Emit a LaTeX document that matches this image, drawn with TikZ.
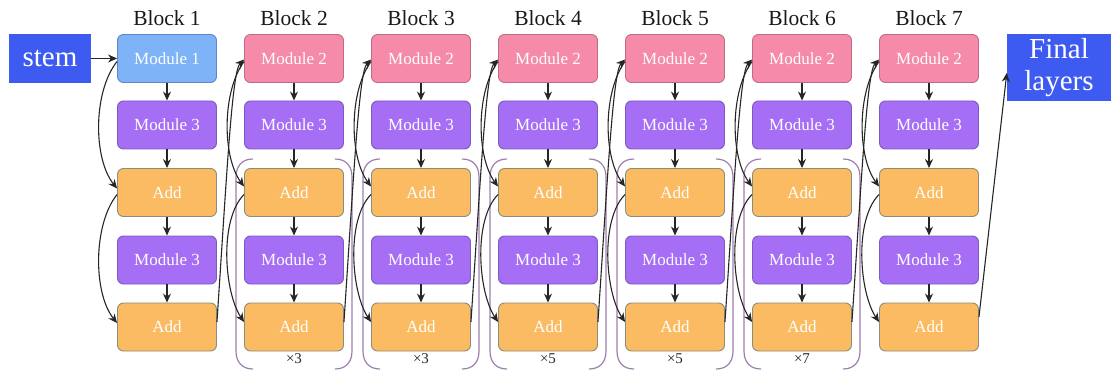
\documentclass[tikz,border=0pt]{standalone}
\usepackage{fontspec}
\setmainfont{Liberation Serif}
\usetikzlibrary{arrows.meta}

\definecolor{modonefill}{HTML}{7EB3F8}
\definecolor{modoneline}{HTML}{5E86C8}
\definecolor{modtwofill}{HTML}{F58BA8}
\definecolor{modtwoline}{HTML}{C06A85}
\definecolor{modthreefill}{HTML}{A56EF5}
\definecolor{modthreeline}{HTML}{7A5BC0}
\definecolor{addfill}{HTML}{FBBB62}
\definecolor{addline}{HTML}{8C8C7A}
\definecolor{endfill}{HTML}{3D5BF0}
\definecolor{brkcol}{HTML}{9C7FAE}

\begin{document}
\begin{tikzpicture}[x=1pt,y=-1pt,
  box/.style={draw, rounded corners=6pt, minimum width=99pt, minimum height=48pt,
    inner sep=0pt, text=white, line width=0.9pt, font=\rmfamily\fontsize{17}{17}\selectfont},
  modone/.style={box, fill=modonefill, draw=modoneline},
  modtwo/.style={box, fill=modtwofill, draw=modtwoline},
  modthree/.style={box, fill=modthreefill, draw=modthreeline},
  addbox/.style={box, fill=addfill, draw=addline},
  endbox/.style={fill=endfill, text=white, inner sep=0pt, align=center,
    font=\rmfamily\fontsize{29}{32}\selectfont},
  arr/.style={-{Stealth[length=9pt,width=8pt]}, line width=1.1pt, black!85},
  brk/.style={draw=brkcol, line width=1.2pt},
  title/.style={font=\rmfamily\fontsize{21.5}{21.5}\selectfont, text=black!90},
  rep/.style={font=\rmfamily\fontsize{15}{15}\selectfont, text=black!85}
]
\useasboundingbox (0,0) rectangle (1111,377);

% repeat brackets behind the blocks
\foreach \i/\n in {2/3,3/3,4/5,5/5,6/7}{
  \pgfmathsetmacro{\cx}{167+127*(\i-1)}
  \draw[brk] (\cx-41,159) .. controls (\cx-52,159) and (\cx-58,166) .. (\cx-58,177)
    -- (\cx-58,351) .. controls (\cx-58,362) and (\cx-52,369) .. (\cx-41,369);
  \draw[brk] (\cx+41,159) .. controls (\cx+52,159) and (\cx+58,166) .. (\cx+58,177)
    -- (\cx+58,351) .. controls (\cx+58,362) and (\cx+52,369) .. (\cx+41,369);
  \node[rep] (rep\i) at (\cx,359) {×\n};
}

% stem and final layers
\node[endbox, minimum width=82pt, minimum height=49pt] (stem) at (50,58.5) {stem};
\node[endbox, minimum width=104pt, minimum height=67pt] (fl) at (1059,67.5) {Final\\layers};

% the seven blocks
\foreach \i in {1,...,7}{
  \pgfmathsetmacro{\cx}{167+127*(\i-1)}
  \node[title] (t\i) at (\cx,18) {Block \i};
  \ifnum\i=1
    \node[modone] (b\i r1) at (\cx,58.5) {Module 1};
  \else
    \node[modtwo] (b\i r1) at (\cx,58.5) {Module 2};
  \fi
  \node[modthree] (b\i r2) at (\cx,125) {Module 3};
  \node[addbox]   (b\i r3) at (\cx,192.5) {Add};
  \node[modthree] (b\i r4) at (\cx,260) {Module 3};
  \node[addbox]   (b\i r5) at (\cx,327) {Add};
  \foreach \j [evaluate=\j as \k using int(\j+1)] in {1,...,4}{
    \draw[arr] (b\i r\j.south) -- (b\i r\k.north);
  }
}

% block 1 inputs and skips
\draw[arr] (stem.east) -- (b1r1.west);
\draw[arr] ([yshift=-3pt]b1r1.west) .. controls +(-24,30) and +(-24,-30) .. ([yshift=4pt]b1r3.west);
\draw[arr] ([yshift=-2pt]b1r3.west) .. controls +(-24,30) and +(-24,-30) .. ([yshift=4pt]b1r5.west);

% links between blocks and skips inside blocks 2-7
\foreach \i [remember=\i as \p (initially 1)] in {2,...,7}{
  \draw[arr] ([yshift=5pt]b\p r5.east) .. controls +(10,-150) and +(-12,12) .. ([yshift=-1pt]b\i r1.west);
  \draw[arr] ([yshift=-3pt]b\i r1.west) .. controls +(-22,30) and +(-22,-30) .. ([yshift=6pt]b\i r3.west);
  \draw[arr] ([yshift=-2pt]b\i r3.west) .. controls +(-25,25) and +(-20,-30) .. ([yshift=5pt]b\i r5.west);
}

% output to the final layers
\draw[arr] ([yshift=10pt]b7r5.east) -- ([yshift=-5.5pt]fl.west);
\end{tikzpicture}
\end{document}
